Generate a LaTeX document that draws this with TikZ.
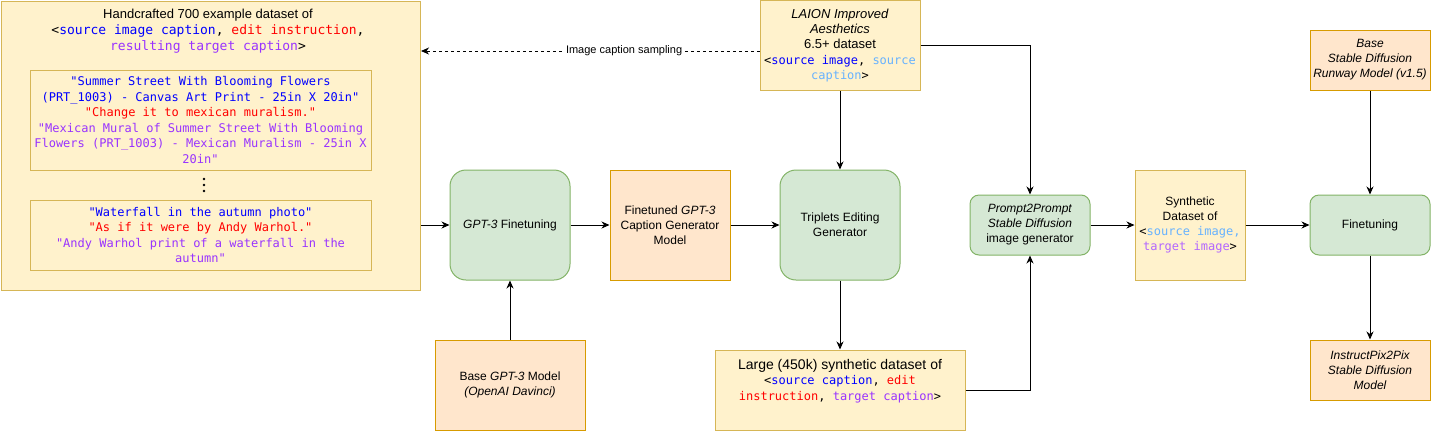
\documentclass[tikz,border=0pt]{standalone}
\usepackage{fontspec}
\setmainfont{Liberation Sans}
\setmonofont{DejaVu Sans Mono}
\usetikzlibrary{arrows.meta}
\usetikzlibrary{positioning}
\definecolor{data-fill}{HTML}{FFF2CC}
\definecolor{data-line}{HTML}{D6B656}
\definecolor{model-fill}{HTML}{FFE6CC}
\definecolor{model-line}{HTML}{D79B00}
\definecolor{stage-fill}{HTML}{D5E8D4}
\definecolor{stage-line}{HTML}{82B366}
\definecolor{src-blue}{RGB}{0,0,255}
\definecolor{edit-red}{RGB}{255,0,0}
\definecolor{tgt-violet}{RGB}{153,51,255}
\definecolor{src-light}{RGB}{102,178,255}
\definecolor{tgt-light}{RGB}{178,102,255}
\tikzset{
  box/.style={rectangle, line width=1pt, inner sep=0pt, align=center,
    font=\fontsize{12}{15}\selectfont},
  mono/.style={font=\fontsize{12}{15.5}\selectfont\ttfamily},
  dataset/.style={box, fill=data-fill, draw=data-line},
  model/.style={box, fill=model-fill, draw=model-line},
  stage/.style={box, fill=stage-fill, draw=stage-line, rounded corners=#1},
  stage/.default=16,
  flow/.style={line width=1pt, -{Stealth[length=8pt, width=7pt, inset=2.5pt]}},
}

\begin{document}
\begin{tikzpicture}[x=1pt, y=-1pt]
\useasboundingbox (0,0) rectangle (1432,432);
% handcrafted examples
\node[dataset, minimum width=419.5, minimum height=289.5, anchor=north west] (handbox) at (0.5,0.5) {};
\node[box, font=\fontsize{13}{16}\selectfont] (handtitle) at (208,31) {Handcrafted 700 example dataset of\\
  \ttfamily <\textcolor{src-blue}{source image caption}, \textcolor{edit-red}{edit instruction},\\
  \ttfamily\textcolor{tgt-violet}{resulting target caption}>};
\node[dataset, mono, minimum width=341, minimum height=100] (ex-one) at (200.5,120) {%
  \textcolor{src-blue}{"Summer Street With Blooming Flowers}\\
  \textcolor{src-blue}{(PRT\_1003) - Canvas Art Print - 25in X 20in"}\\
  \textcolor{edit-red}{"Change it to mexican muralism."}\\
  \textcolor{tgt-violet}{"Mexican Mural of Summer Street With Blooming}\\
  \textcolor{tgt-violet}{Flowers (PRT\_1003) - Mexican Muralism - 25in X}\\
  \textcolor{tgt-violet}{20in"}};
\foreach \dy in {-6,0,6}
  \fill (204,185+\dy) circle (1.3);
\node[dataset, mono, minimum width=341, minimum height=70] (ex-two) at (200.5,235) {%
  \textcolor{src-blue}{"Waterfall in the autumn photo"}\\
  \textcolor{edit-red}{"As if it were by Andy Warhol."}\\
  \textcolor{tgt-violet}{"Andy Warhol print of a waterfall in the}\\
  \textcolor{tgt-violet}{autumn"}};

% top row
\node[dataset, font=\fontsize{13}{15.3}\selectfont, minimum width=160, minimum height=89.5] (laion) at (840,45.5) {%
  \textit{LAION Improved}\\\textit{Aesthetics}\\6.5+ dataset\\
  \fontsize{12}{15.3}\selectfont\ttfamily <\textcolor{src-blue}{source image}, \textcolor{src-light}{source}\\
  \fontsize{12}{15.3}\selectfont\ttfamily\textcolor{src-light}{caption}>};
\node[model, minimum width=120, minimum height=60] (base-sd) at (1370,60) {\itshape Base\\\itshape Stable Diffusion\\\itshape Runway Model (v1.5)};

% middle row
\node[stage, minimum width=120, minimum height=110] (gpt-ft) at (510,225) {\textit{GPT-3} Finetuning};
\node[model, minimum width=120, minimum height=110] (gpt-tuned) at (670,225) {Finetuned \textit{GPT-3}\\Caption Generator\\Model};
\node[stage, minimum width=120, minimum height=110] (triplets) at (840,225) {Triplets Editing\\Generator};
\node[stage=9, minimum width=120, minimum height=60] (p2p) at (1030,225) {\textit{Prompt2Prompt}\\\textit{Stable Diffusion}\\image generator};
\node[dataset, minimum width=110, minimum height=110] (synth) at (1190,225) {Synthetic\\Dataset of\\
  \ttfamily <\textcolor{src-light}{source image,}\\\ttfamily\textcolor{tgt-light}{target image}>};
\node[stage=9, minimum width=120, minimum height=60] (sd-ft) at (1370,225) {Finetuning};

% bottom row
\node[model, minimum width=150, minimum height=90] (base-gpt) at (510,385) {Base \textit{GPT-3} Model\\\textit{(OpenAI Davinci)}};
\node[dataset, minimum width=250, minimum height=80] (large) at (840,390) {};
\node[box, font=\fontsize{14}{15.3}\selectfont] (large-txt) at (840,381) {Large (450k) synthetic dataset of\\
  \fontsize{12}{15}\selectfont\ttfamily <\textcolor{src-blue}{source caption}, \textcolor{edit-red}{edit}\\
  \fontsize{12}{15}\selectfont\ttfamily\textcolor{edit-red}{instruction}, \textcolor{tgt-violet}{target caption}>};
\node[model, minimum width=120, minimum height=60] (ip2p) at (1370,370) {\itshape InstructPix2Pix\\\itshape Stable Diffusion\\\itshape Model};

% connectors
\draw[flow, dash pattern=on 3pt off 3pt] ([yshift=-5.5pt]laion.west) -- ([yshift=-5.5pt]laion.west -| handbox.east)
  node[pos=0.4, fill=white, inner sep=1pt, font=\fontsize{11}{13}\selectfont] {Image caption sampling};
\draw[flow] (gpt-ft.west -| handbox.east) -- (gpt-ft.west);
\draw[flow] (gpt-ft) -- (gpt-tuned);
\draw[flow] (gpt-tuned) -- (triplets);
\draw[flow] (base-gpt) -- (gpt-ft);
\draw[flow] (laion) -- (triplets);
\draw[flow] (triplets) -- (large);
\draw[flow] (laion.east) -| (p2p.north);
\draw[flow] (large.east) -| (p2p.south);
\draw[flow] (p2p) -- (synth);
\draw[flow] (synth) -- (sd-ft);
\draw[flow] (base-sd) -- (sd-ft);
\draw[flow] (sd-ft) -- (ip2p);
\end{tikzpicture}
\end{document}
